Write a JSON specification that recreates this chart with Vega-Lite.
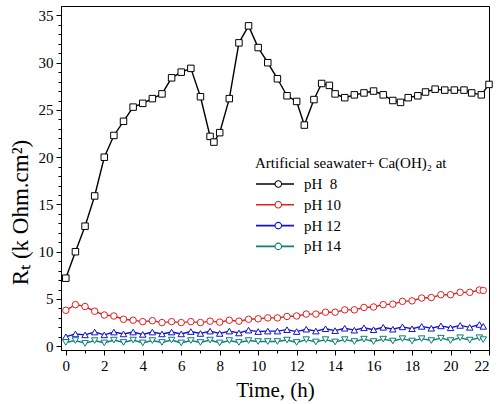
{
  "$schema": "https://vega.github.io/schema/vega-lite/v6.json",
  "width": 428,
  "height": 344,
  "autosize": "none",
  "padding": {"left": 61, "top": 6, "right": 11, "bottom": 54},
  "background": "white",
  "config": {
    "font": "Liberation Serif",
    "view": {"stroke": "black", "strokeWidth": 1},
    "axis": {
      "domainColor": "black",
      "tickColor": "black",
      "labelColor": "black",
      "titleColor": "black",
      "labelFont": "Liberation Serif",
      "titleFont": "Liberation Serif",
      "labelFontSize": 15,
      "titleFontSize": 21,
      "titleFontWeight": "normal",
      "grid": false
    }
  },
  "data": {
    "values": [
      {"t": 0, "v": 7.2, "s": "pH 8"}, {"t": 0.5, "v": 10.0, "s": "pH 8"}, {"t": 1, "v": 12.7, "s": "pH 8"},
      {"t": 1.5, "v": 15.9, "s": "pH 8"}, {"t": 2, "v": 20.0, "s": "pH 8"}, {"t": 2.5, "v": 22.3, "s": "pH 8"},
      {"t": 3, "v": 23.8, "s": "pH 8"}, {"t": 3.5, "v": 25.3, "s": "pH 8"}, {"t": 4, "v": 25.7, "s": "pH 8"},
      {"t": 4.5, "v": 26.2, "s": "pH 8"}, {"t": 5, "v": 26.7, "s": "pH 8"}, {"t": 5.5, "v": 28.4, "s": "pH 8"},
      {"t": 6, "v": 29.0, "s": "pH 8"}, {"t": 6.5, "v": 29.4, "s": "pH 8"}, {"t": 7, "v": 26.4, "s": "pH 8"},
      {"t": 7.5, "v": 22.2, "s": "pH 8"}, {"t": 7.7, "v": 21.6, "s": "pH 8"}, {"t": 8, "v": 22.6, "s": "pH 8"},
      {"t": 8.5, "v": 26.2, "s": "pH 8"}, {"t": 9, "v": 32.1, "s": "pH 8"}, {"t": 9.5, "v": 33.9, "s": "pH 8"},
      {"t": 10, "v": 31.6, "s": "pH 8"}, {"t": 10.5, "v": 30.0, "s": "pH 8"}, {"t": 11, "v": 28.3, "s": "pH 8"},
      {"t": 11.5, "v": 26.5, "s": "pH 8"}, {"t": 12, "v": 25.9, "s": "pH 8"}, {"t": 12.4, "v": 23.4, "s": "pH 8"},
      {"t": 12.9, "v": 26.1, "s": "pH 8"}, {"t": 13.3, "v": 27.8, "s": "pH 8"}, {"t": 13.7, "v": 27.6, "s": "pH 8"},
      {"t": 14, "v": 26.7, "s": "pH 8"}, {"t": 14.5, "v": 26.3, "s": "pH 8"}, {"t": 15, "v": 26.6, "s": "pH 8"},
      {"t": 15.5, "v": 26.8, "s": "pH 8"}, {"t": 16, "v": 27.0, "s": "pH 8"}, {"t": 16.5, "v": 26.6, "s": "pH 8"},
      {"t": 17, "v": 26.0, "s": "pH 8"}, {"t": 17.4, "v": 25.8, "s": "pH 8"}, {"t": 17.8, "v": 26.3, "s": "pH 8"},
      {"t": 18.3, "v": 26.5, "s": "pH 8"}, {"t": 18.7, "v": 26.9, "s": "pH 8"}, {"t": 19.2, "v": 27.2, "s": "pH 8"},
      {"t": 19.7, "v": 27.1, "s": "pH 8"}, {"t": 20.2, "v": 27.1, "s": "pH 8"}, {"t": 20.7, "v": 27.1, "s": "pH 8"},
      {"t": 21.1, "v": 26.8, "s": "pH 8"}, {"t": 21.6, "v": 26.6, "s": "pH 8"}, {"t": 22, "v": 27.7, "s": "pH 8"},

      {"t": 0, "v": 3.8, "s": "pH 10"}, {"t": 0.5, "v": 4.4, "s": "pH 10"}, {"t": 1, "v": 4.2, "s": "pH 10"},
      {"t": 1.5, "v": 3.7, "s": "pH 10"}, {"t": 2, "v": 3.3, "s": "pH 10"}, {"t": 2.5, "v": 3.2, "s": "pH 10"},
      {"t": 3, "v": 2.85, "s": "pH 10"}, {"t": 3.5, "v": 2.75, "s": "pH 10"}, {"t": 4, "v": 2.6, "s": "pH 10"},
      {"t": 4.5, "v": 2.7, "s": "pH 10"}, {"t": 5, "v": 2.5, "s": "pH 10"}, {"t": 5.5, "v": 2.6, "s": "pH 10"},
      {"t": 6, "v": 2.5, "s": "pH 10"}, {"t": 6.5, "v": 2.6, "s": "pH 10"}, {"t": 7, "v": 2.5, "s": "pH 10"},
      {"t": 7.5, "v": 2.65, "s": "pH 10"}, {"t": 8, "v": 2.55, "s": "pH 10"}, {"t": 8.5, "v": 2.75, "s": "pH 10"},
      {"t": 9, "v": 2.65, "s": "pH 10"}, {"t": 9.5, "v": 2.85, "s": "pH 10"}, {"t": 10, "v": 2.9, "s": "pH 10"},
      {"t": 10.5, "v": 3.0, "s": "pH 10"}, {"t": 11, "v": 3.0, "s": "pH 10"}, {"t": 11.5, "v": 3.15, "s": "pH 10"},
      {"t": 12, "v": 3.2, "s": "pH 10"}, {"t": 12.5, "v": 3.4, "s": "pH 10"}, {"t": 13, "v": 3.4, "s": "pH 10"},
      {"t": 13.5, "v": 3.6, "s": "pH 10"}, {"t": 14, "v": 3.6, "s": "pH 10"}, {"t": 14.5, "v": 3.85, "s": "pH 10"},
      {"t": 15, "v": 3.85, "s": "pH 10"}, {"t": 15.5, "v": 4.1, "s": "pH 10"}, {"t": 16, "v": 4.15, "s": "pH 10"},
      {"t": 16.5, "v": 4.4, "s": "pH 10"}, {"t": 17, "v": 4.45, "s": "pH 10"}, {"t": 17.5, "v": 4.75, "s": "pH 10"},
      {"t": 18, "v": 4.8, "s": "pH 10"}, {"t": 18.5, "v": 5.1, "s": "pH 10"}, {"t": 19, "v": 5.15, "s": "pH 10"},
      {"t": 19.5, "v": 5.45, "s": "pH 10"}, {"t": 20, "v": 5.45, "s": "pH 10"}, {"t": 20.5, "v": 5.7, "s": "pH 10"},
      {"t": 21, "v": 5.7, "s": "pH 10"}, {"t": 21.5, "v": 5.95, "s": "pH 10"}, {"t": 21.7, "v": 5.9, "s": "pH 10"},

      {"t": 0, "v": 1.0, "s": "pH 12"}, {"t": 0.5, "v": 1.3, "s": "pH 12"}, {"t": 1, "v": 1.2, "s": "pH 12"},
      {"t": 1.5, "v": 1.5, "s": "pH 12"}, {"t": 2, "v": 1.2, "s": "pH 12"}, {"t": 2.5, "v": 1.5, "s": "pH 12"},
      {"t": 3, "v": 1.3, "s": "pH 12"}, {"t": 3.5, "v": 1.5, "s": "pH 12"}, {"t": 4, "v": 1.25, "s": "pH 12"},
      {"t": 4.5, "v": 1.5, "s": "pH 12"}, {"t": 5, "v": 1.3, "s": "pH 12"}, {"t": 5.5, "v": 1.5, "s": "pH 12"},
      {"t": 6, "v": 1.3, "s": "pH 12"}, {"t": 6.5, "v": 1.55, "s": "pH 12"}, {"t": 7, "v": 1.35, "s": "pH 12"},
      {"t": 7.5, "v": 1.6, "s": "pH 12"}, {"t": 8, "v": 1.35, "s": "pH 12"}, {"t": 8.5, "v": 1.6, "s": "pH 12"},
      {"t": 9, "v": 1.4, "s": "pH 12"}, {"t": 9.5, "v": 1.7, "s": "pH 12"}, {"t": 10, "v": 1.55, "s": "pH 12"},
      {"t": 10.5, "v": 1.6, "s": "pH 12"}, {"t": 11, "v": 1.6, "s": "pH 12"}, {"t": 11.5, "v": 1.75, "s": "pH 12"},
      {"t": 12, "v": 1.55, "s": "pH 12"}, {"t": 12.5, "v": 1.8, "s": "pH 12"}, {"t": 13, "v": 1.6, "s": "pH 12"},
      {"t": 13.5, "v": 1.85, "s": "pH 12"}, {"t": 14, "v": 1.65, "s": "pH 12"}, {"t": 14.5, "v": 1.9, "s": "pH 12"},
      {"t": 15, "v": 1.7, "s": "pH 12"}, {"t": 15.5, "v": 1.95, "s": "pH 12"}, {"t": 16, "v": 1.75, "s": "pH 12"},
      {"t": 16.5, "v": 2.0, "s": "pH 12"}, {"t": 17, "v": 1.8, "s": "pH 12"}, {"t": 17.5, "v": 2.05, "s": "pH 12"},
      {"t": 18, "v": 1.85, "s": "pH 12"}, {"t": 18.5, "v": 2.1, "s": "pH 12"}, {"t": 19, "v": 1.9, "s": "pH 12"},
      {"t": 19.5, "v": 2.15, "s": "pH 12"}, {"t": 20, "v": 1.95, "s": "pH 12"}, {"t": 20.5, "v": 2.2, "s": "pH 12"},
      {"t": 21, "v": 2.0, "s": "pH 12"}, {"t": 21.5, "v": 2.3, "s": "pH 12"}, {"t": 21.7, "v": 2.1, "s": "pH 12"},

      {"t": 0, "v": 0.4, "s": "pH 14"}, {"t": 0.5, "v": 0.6, "s": "pH 14"}, {"t": 1, "v": 0.3, "s": "pH 14"},
      {"t": 1.5, "v": 0.6, "s": "pH 14"}, {"t": 2, "v": 0.35, "s": "pH 14"}, {"t": 2.5, "v": 0.65, "s": "pH 14"},
      {"t": 3, "v": 0.4, "s": "pH 14"}, {"t": 3.5, "v": 0.65, "s": "pH 14"}, {"t": 4, "v": 0.35, "s": "pH 14"},
      {"t": 4.5, "v": 0.6, "s": "pH 14"}, {"t": 5, "v": 0.4, "s": "pH 14"}, {"t": 5.5, "v": 0.65, "s": "pH 14"},
      {"t": 6, "v": 0.35, "s": "pH 14"}, {"t": 6.5, "v": 0.6, "s": "pH 14"}, {"t": 7, "v": 0.4, "s": "pH 14"},
      {"t": 7.5, "v": 0.65, "s": "pH 14"}, {"t": 8, "v": 0.35, "s": "pH 14"}, {"t": 8.5, "v": 0.6, "s": "pH 14"},
      {"t": 9, "v": 0.4, "s": "pH 14"}, {"t": 9.5, "v": 0.6, "s": "pH 14"}, {"t": 10, "v": 0.5, "s": "pH 14"},
      {"t": 10.5, "v": 0.5, "s": "pH 14"}, {"t": 11, "v": 0.5, "s": "pH 14"}, {"t": 11.5, "v": 0.65, "s": "pH 14"},
      {"t": 12, "v": 0.4, "s": "pH 14"}, {"t": 12.5, "v": 0.7, "s": "pH 14"}, {"t": 13, "v": 0.45, "s": "pH 14"},
      {"t": 13.5, "v": 0.7, "s": "pH 14"}, {"t": 14, "v": 0.45, "s": "pH 14"}, {"t": 14.5, "v": 0.7, "s": "pH 14"},
      {"t": 15, "v": 0.5, "s": "pH 14"}, {"t": 15.5, "v": 0.75, "s": "pH 14"}, {"t": 16, "v": 0.5, "s": "pH 14"},
      {"t": 16.5, "v": 0.75, "s": "pH 14"}, {"t": 17, "v": 0.55, "s": "pH 14"}, {"t": 17.5, "v": 0.8, "s": "pH 14"},
      {"t": 18, "v": 0.55, "s": "pH 14"}, {"t": 18.5, "v": 0.8, "s": "pH 14"}, {"t": 19, "v": 0.6, "s": "pH 14"},
      {"t": 19.5, "v": 0.85, "s": "pH 14"}, {"t": 20, "v": 0.6, "s": "pH 14"}, {"t": 20.5, "v": 0.9, "s": "pH 14"},
      {"t": 21, "v": 0.65, "s": "pH 14"}, {"t": 21.5, "v": 0.9, "s": "pH 14"}, {"t": 21.7, "v": 0.7, "s": "pH 14"}
    ]
  },
  "encoding": {
    "x": {
      "field": "t",
      "type": "quantitative",
      "scale": {"domain": [-0.25, 22], "nice": false, "zero": false}
    },
    "y": {
      "field": "v",
      "type": "quantitative",
      "scale": {"domain": [-0.4, 36], "nice": false, "zero": false}
    }
  },
  "layer": [
    {
      "mark": {"type": "line", "strokeWidth": 1.4},
      "encoding": {
        "color": {
          "field": "s",
          "type": "nominal",
          "sort": ["pH 8", "pH 10", "pH 12", "pH 14"],
          "scale": {"range": ["#000000", "#e02020", "#1414c8", "#0b7f7a"]},
          "legend": {
            "title": "Artificial seawater+ Ca(OH)₂ at",
            "orient": "none",
            "legendX": 194,
            "legendY": 150,
            "titleFont": "Liberation Serif",
            "titleFontSize": 15,
            "titleFontWeight": "normal",
            "titleColor": "black",
            "titleLimit": 400,
            "titlePadding": 5,
            "labelFont": "Liberation Serif",
            "labelFontSize": 15,
            "labelColor": "black",
            "labelOffset": 9,
            "symbolType": "stroke",
            "symbolSize": 1444,
            "symbolOffset": 0,
            "symbolStrokeWidth": 1.6,
            "clipHeight": 16,
            "rowPadding": 4.8,
            "labelExpr": "datum.value === 'pH 8' ? 'pH\u20078' : datum.label"
          }
        },
        "x": {
          "field": "t",
          "type": "quantitative",
          "axis": {
            "orient": "bottom",
            "values": [0, 2, 4, 6, 8, 10, 12, 14, 16, 18, 20, 22],
            "tickSize": 5,
            "labelPadding": 3,
            "title": "Time, (h)",
            "titlePadding": 6
          }
        },
        "y": {
          "field": "v",
          "type": "quantitative",
          "axis": {
            "orient": "left",
            "values": [0, 5, 10, 15, 20, 25, 30, 35],
            "tickSize": 5,
            "labelPadding": 3,
            "title": "Rₜ (k Ohm.cm²)",
            "titleFontSize": 23,
            "titlePadding": 6,
            "titleY": 206
          }
        }
      }
    },
    {
      "mark": {"type": "point", "filled": false, "fill": "white", "strokeWidth": 1, "size": 42, "opacity": 1},
      "encoding": {
        "x": {"field": "t", "type": "quantitative", "axis": null},
        "y": {"field": "v", "type": "quantitative", "axis": null},
        "color": {
          "field": "s",
          "type": "nominal",
          "scale": {
            "domain": ["pH 8", "pH 10", "pH 12", "pH 14"],
            "range": ["#000000", "#e02020", "#1414c8", "#0b7f7a"]
          },
          "legend": {
            "title": "Artificial seawater+ Ca(OH)₂ at",
            "orient": "none",
            "legendX": 194,
            "legendY": 150,
            "titleFont": "Liberation Serif",
            "titleFontSize": 15,
            "titleFontWeight": "normal",
            "titleColor": "rgba(0,0,0,0)",
            "titleLimit": 400,
            "titlePadding": 5,
            "labelFont": "Liberation Serif",
            "labelFontSize": 15,
            "labelColor": "rgba(0,0,0,0)",
            "labelOffset": 9,
            "symbolSize": 42,
            "symbolOffset": 15.8,
            "symbolStrokeWidth": 1.1,
            "symbolFillColor": "white",
            "clipHeight": 16,
            "rowPadding": 4.8,
            "labelExpr": "datum.value === 'pH 8' ? 'pH\u20078' : datum.label"
          }
        },
        "shape": {
          "field": "s",
          "type": "nominal",
          "scale": {
            "domain": ["pH 8", "pH 10", "pH 12", "pH 14"],
            "range": ["square", "circle", "triangle-up", "triangle-down"]
          },
          "legend": {
            "title": "Artificial seawater+ Ca(OH)₂ at",
            "orient": "none",
            "legendX": 194,
            "legendY": 150,
            "titleFont": "Liberation Serif",
            "titleFontSize": 15,
            "titleFontWeight": "normal",
            "titleColor": "rgba(0,0,0,0)",
            "titleLimit": 400,
            "titlePadding": 5,
            "labelFont": "Liberation Serif",
            "labelFontSize": 15,
            "labelColor": "rgba(0,0,0,0)",
            "labelOffset": 9,
            "symbolSize": 42,
            "symbolOffset": 15.8,
            "symbolStrokeWidth": 1.1,
            "symbolFillColor": "white",
            "clipHeight": 16,
            "rowPadding": 4.8,
            "labelExpr": "datum.value === 'pH 8' ? 'pH\u20078' : datum.label"
          }
        }
      }
    },
    {
      "mark": {"type": "point", "opacity": 0},
      "encoding": {
        "x": {
          "field": "t",
          "type": "quantitative",
          "axis": {
            "orient": "bottom",
            "values": [0, 1, 2, 3, 4, 5, 6, 7, 8, 9, 10, 11, 12, 13, 14, 15, 16, 17, 18, 19, 20, 21, 22],
            "tickSize": 3,
            "labels": false,
            "domain": false,
            "title": null
          }
        },
        "y": {
          "field": "v",
          "type": "quantitative",
          "axis": {
            "orient": "left",
            "values": [0, 1, 2, 3, 4, 5, 6, 7, 8, 9, 10, 11, 12, 13, 14, 15, 16, 17, 18, 19, 20, 21, 22, 23, 24, 25, 26, 27, 28, 29, 30, 31, 32, 33, 34, 35],
            "tickSize": 3,
            "labels": false,
            "domain": false,
            "title": null
          }
        }
      }
    }
  ],
  "resolve": {
    "axis": {"x": "independent", "y": "independent"},
    "scale": {"color": "independent"}
  }
}
